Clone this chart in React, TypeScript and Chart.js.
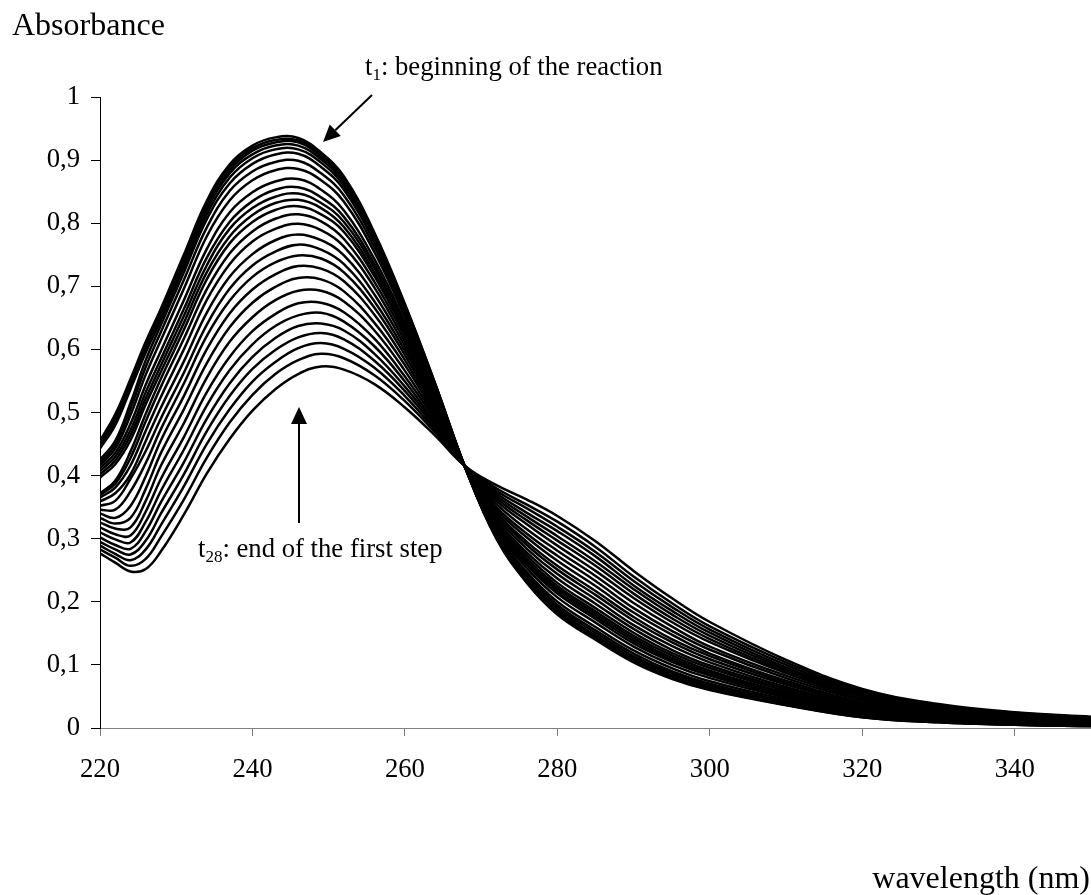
import { useEffect, useRef } from 'react';
import { Chart, registerables } from 'chart.js';

Chart.register(...registerables);

// ---- data ----
const WAVELENGTHS = [220, 222, 224, 226, 228, 231, 234, 237, 240, 243, 246, 249, 252, 256, 260, 264, 268, 272, 276, 280, 285, 290, 295, 300, 310, 320, 330, 340, 350];

const T1 = [0.455, 0.497, 0.553, 0.612, 0.665, 0.750, 0.835, 0.893, 0.923, 0.936, 0.935, 0.912, 0.874, 0.785, 0.672, 0.545, 0.410, 0.300, 0.230, 0.180, 0.140, 0.104, 0.078, 0.060, 0.036, 0.017, 0.009, 0.005, 0.003];
const T2 = [0.452, 0.492, 0.549, 0.608, 0.661, 0.746, 0.831, 0.889, 0.919, 0.932, 0.931, 0.909, 0.871, 0.783, 0.670, 0.544, 0.410, 0.301, 0.231, 0.182, 0.142, 0.105, 0.079, 0.061, 0.037, 0.017, 0.009, 0.005, 0.003];
const T3 = [0.449, 0.488, 0.545, 0.605, 0.657, 0.742, 0.826, 0.884, 0.915, 0.928, 0.928, 0.905, 0.868, 0.780, 0.669, 0.543, 0.410, 0.302, 0.233, 0.183, 0.143, 0.107, 0.081, 0.062, 0.037, 0.018, 0.010, 0.005, 0.003];
const T4 = [0.446, 0.484, 0.541, 0.600, 0.652, 0.736, 0.821, 0.879, 0.909, 0.923, 0.923, 0.901, 0.864, 0.777, 0.667, 0.542, 0.410, 0.303, 0.234, 0.185, 0.145, 0.109, 0.082, 0.064, 0.038, 0.018, 0.010, 0.006, 0.003];
const T5 = [0.443, 0.480, 0.537, 0.595, 0.647, 0.730, 0.814, 0.872, 0.903, 0.917, 0.917, 0.896, 0.859, 0.773, 0.664, 0.541, 0.410, 0.304, 0.236, 0.187, 0.147, 0.111, 0.084, 0.066, 0.040, 0.019, 0.010, 0.006, 0.004];
const T6 = [0.425, 0.455, 0.515, 0.583, 0.639, 0.722, 0.806, 0.863, 0.894, 0.909, 0.910, 0.889, 0.853, 0.769, 0.661, 0.539, 0.410, 0.306, 0.239, 0.191, 0.151, 0.114, 0.087, 0.068, 0.041, 0.020, 0.011, 0.006, 0.004];
const T7 = [0.420, 0.449, 0.506, 0.572, 0.628, 0.710, 0.793, 0.851, 0.882, 0.897, 0.899, 0.879, 0.844, 0.762, 0.656, 0.537, 0.410, 0.308, 0.243, 0.195, 0.155, 0.118, 0.090, 0.070, 0.042, 0.021, 0.012, 0.007, 0.004];
const T8 = [0.416, 0.443, 0.496, 0.560, 0.615, 0.696, 0.779, 0.836, 0.868, 0.884, 0.886, 0.868, 0.834, 0.754, 0.651, 0.534, 0.411, 0.311, 0.247, 0.200, 0.160, 0.123, 0.095, 0.074, 0.045, 0.023, 0.013, 0.008, 0.005];
const T9 = [0.412, 0.436, 0.482, 0.544, 0.598, 0.678, 0.759, 0.817, 0.849, 0.866, 0.870, 0.853, 0.820, 0.743, 0.643, 0.531, 0.411, 0.315, 0.253, 0.207, 0.167, 0.129, 0.100, 0.079, 0.048, 0.025, 0.014, 0.009, 0.006];
const T10 = [0.407, 0.430, 0.472, 0.532, 0.585, 0.664, 0.745, 0.802, 0.835, 0.853, 0.857, 0.841, 0.810, 0.735, 0.638, 0.528, 0.411, 0.318, 0.258, 0.213, 0.173, 0.134, 0.105, 0.083, 0.050, 0.026, 0.015, 0.009, 0.006];
const T11 = [0.402, 0.424, 0.464, 0.522, 0.575, 0.653, 0.733, 0.791, 0.824, 0.842, 0.847, 0.832, 0.802, 0.729, 0.633, 0.526, 0.411, 0.320, 0.261, 0.217, 0.177, 0.138, 0.108, 0.085, 0.052, 0.028, 0.016, 0.010, 0.007];
const T12 = [0.397, 0.418, 0.456, 0.513, 0.565, 0.642, 0.722, 0.779, 0.813, 0.832, 0.837, 0.824, 0.794, 0.722, 0.629, 0.524, 0.411, 0.322, 0.264, 0.221, 0.181, 0.142, 0.111, 0.088, 0.054, 0.029, 0.017, 0.010, 0.007];
const T13 = [0.372, 0.392, 0.438, 0.498, 0.554, 0.631, 0.711, 0.768, 0.802, 0.821, 0.827, 0.814, 0.786, 0.716, 0.625, 0.521, 0.411, 0.324, 0.268, 0.225, 0.185, 0.146, 0.115, 0.091, 0.056, 0.030, 0.017, 0.011, 0.007];
const T14 = [0.369, 0.387, 0.428, 0.486, 0.541, 0.617, 0.695, 0.752, 0.787, 0.807, 0.814, 0.803, 0.775, 0.707, 0.619, 0.519, 0.411, 0.327, 0.273, 0.230, 0.190, 0.151, 0.119, 0.095, 0.059, 0.032, 0.018, 0.011, 0.008];
const T15 = [0.365, 0.381, 0.416, 0.471, 0.525, 0.600, 0.678, 0.735, 0.771, 0.791, 0.799, 0.789, 0.763, 0.698, 0.612, 0.515, 0.411, 0.331, 0.278, 0.237, 0.197, 0.157, 0.124, 0.099, 0.062, 0.033, 0.020, 0.012, 0.008];
const T16 = [0.359, 0.372, 0.402, 0.455, 0.508, 0.581, 0.658, 0.715, 0.751, 0.773, 0.782, 0.773, 0.749, 0.687, 0.605, 0.511, 0.412, 0.335, 0.284, 0.244, 0.204, 0.163, 0.130, 0.104, 0.065, 0.035, 0.021, 0.013, 0.009];
const T17 = [0.352, 0.360, 0.395, 0.439, 0.491, 0.563, 0.639, 0.696, 0.733, 0.755, 0.766, 0.758, 0.735, 0.676, 0.598, 0.508, 0.412, 0.339, 0.290, 0.251, 0.211, 0.170, 0.136, 0.109, 0.069, 0.037, 0.022, 0.014, 0.010];
const T18 = [0.346, 0.346, 0.375, 0.420, 0.474, 0.546, 0.621, 0.677, 0.715, 0.738, 0.749, 0.744, 0.722, 0.666, 0.591, 0.504, 0.412, 0.342, 0.295, 0.257, 0.217, 0.176, 0.141, 0.114, 0.072, 0.039, 0.023, 0.015, 0.010];
const T19 = [0.340, 0.333, 0.352, 0.399, 0.456, 0.526, 0.600, 0.657, 0.695, 0.719, 0.732, 0.728, 0.708, 0.655, 0.583, 0.500, 0.412, 0.346, 0.302, 0.265, 0.225, 0.183, 0.148, 0.118, 0.075, 0.041, 0.025, 0.016, 0.011];
const T20 = [0.333, 0.324, 0.333, 0.379, 0.436, 0.505, 0.578, 0.635, 0.674, 0.699, 0.713, 0.711, 0.692, 0.642, 0.575, 0.496, 0.412, 0.350, 0.308, 0.273, 0.233, 0.190, 0.154, 0.124, 0.079, 0.044, 0.026, 0.017, 0.012];
const T21 = [0.326, 0.316, 0.318, 0.360, 0.416, 0.483, 0.555, 0.612, 0.651, 0.678, 0.693, 0.693, 0.676, 0.630, 0.566, 0.492, 0.413, 0.355, 0.315, 0.281, 0.241, 0.198, 0.161, 0.129, 0.083, 0.046, 0.028, 0.018, 0.013];
const T22 = [0.318, 0.307, 0.305, 0.343, 0.395, 0.461, 0.532, 0.588, 0.629, 0.656, 0.673, 0.674, 0.659, 0.617, 0.557, 0.488, 0.413, 0.360, 0.323, 0.289, 0.249, 0.206, 0.168, 0.136, 0.087, 0.049, 0.029, 0.019, 0.014];
const T23 = [0.310, 0.299, 0.294, 0.327, 0.376, 0.441, 0.511, 0.567, 0.608, 0.637, 0.654, 0.658, 0.644, 0.605, 0.549, 0.483, 0.413, 0.364, 0.329, 0.297, 0.257, 0.213, 0.174, 0.141, 0.090, 0.051, 0.031, 0.020, 0.014];
const T24 = [0.302, 0.290, 0.284, 0.312, 0.358, 0.421, 0.490, 0.546, 0.588, 0.618, 0.637, 0.641, 0.630, 0.593, 0.541, 0.480, 0.413, 0.368, 0.335, 0.304, 0.264, 0.220, 0.180, 0.146, 0.093, 0.053, 0.032, 0.021, 0.015];
const T25 = [0.295, 0.283, 0.275, 0.297, 0.340, 0.402, 0.470, 0.526, 0.569, 0.599, 0.619, 0.626, 0.616, 0.582, 0.534, 0.476, 0.413, 0.372, 0.341, 0.312, 0.272, 0.226, 0.186, 0.151, 0.096, 0.055, 0.033, 0.022, 0.016];
const T26 = [0.289, 0.276, 0.266, 0.283, 0.322, 0.383, 0.450, 0.505, 0.549, 0.580, 0.602, 0.610, 0.601, 0.571, 0.526, 0.472, 0.414, 0.376, 0.348, 0.319, 0.279, 0.233, 0.192, 0.156, 0.100, 0.057, 0.035, 0.023, 0.016];
const T27 = [0.283, 0.270, 0.257, 0.268, 0.303, 0.362, 0.428, 0.484, 0.528, 0.561, 0.583, 0.593, 0.586, 0.559, 0.518, 0.468, 0.414, 0.380, 0.354, 0.327, 0.287, 0.240, 0.198, 0.161, 0.104, 0.059, 0.036, 0.024, 0.017];
const T28 = [0.277, 0.262, 0.248, 0.252, 0.280, 0.338, 0.403, 0.458, 0.503, 0.537, 0.561, 0.573, 0.568, 0.545, 0.508, 0.463, 0.414, 0.385, 0.362, 0.336, 0.296, 0.249, 0.206, 0.168, 0.108, 0.062, 0.038, 0.025, 0.018];

const SERIES = [T1, T2, T3, T4, T5, T6, T7, T8, T9, T10, T11, T12, T13, T14, T15, T16, T17, T18, T19, T20, T21, T22, T23, T24, T25, T26, T27, T28];

const X_TICKS = [220, 240, 260, 280, 300, 320, 340];
const X_TICK_LABELS = ['220', '240', '260', '280', '300', '320', '340'];
const Y_TICKS = [0, 0.1, 0.2, 0.3, 0.4, 0.5, 0.6, 0.7, 0.8, 0.9, 1];
const Y_TICK_LABELS = ['0', '0,1', '0,2', '0,3', '0,4', '0,5', '0,6', '0,7', '0,8', '0,9', '1'];

const Y_TITLE = 'Absorbance';
const X_TITLE = 'wavelength (nm)';
const NOTE_START = { main: 't', sub: '1', rest: ': beginning of the reaction' };
const NOTE_END = { main: 't', sub: '28', rest: ': end of the first step' };

const FONT = '"Liberation Serif", "Times New Roman", Times, serif';

function drawSubText(ctx: CanvasRenderingContext2D, note: { main: string; sub: string; rest: string }, x: number, y: number) {
  ctx.textAlign = 'left';
  ctx.textBaseline = 'alphabetic';
  ctx.font = `26.7px ${FONT}`;
  ctx.fillText(note.main, x, y);
  let cx = x + ctx.measureText(note.main).width;
  ctx.font = `17px ${FONT}`;
  ctx.fillText(note.sub, cx, y + 5);
  cx += ctx.measureText(note.sub).width;
  ctx.font = `26.7px ${FONT}`;
  ctx.fillText(note.rest, cx, y);
}

function drawArrow(ctx: CanvasRenderingContext2D, x1: number, y1: number, x2: number, y2: number) {
  const ang = Math.atan2(y2 - y1, x2 - x1);
  const headLen = 17;
  const headHalf = 8;
  const bx = x2 - headLen * Math.cos(ang);
  const by = y2 - headLen * Math.sin(ang);
  ctx.strokeStyle = '#000';
  ctx.lineWidth = 2;
  ctx.beginPath();
  ctx.moveTo(x1, y1);
  ctx.lineTo(bx, by);
  ctx.stroke();
  ctx.fillStyle = '#000';
  ctx.beginPath();
  ctx.moveTo(x2, y2);
  ctx.lineTo(bx + headHalf * Math.sin(ang), by - headHalf * Math.cos(ang));
  ctx.lineTo(bx - headHalf * Math.sin(ang), by + headHalf * Math.cos(ang));
  ctx.closePath();
  ctx.fill();
}

export default function App() {
  const ref = useRef<HTMLCanvasElement>(null);

  useEffect(() => {
    if (!ref.current) return;

    const annotations = {
      id: 'annotations',
      afterDraw(chart: any) {
        const ctx: CanvasRenderingContext2D = chart.ctx;
        ctx.save();
        ctx.fillStyle = '#000';
        ctx.textBaseline = 'alphabetic';
        ctx.font = `32px ${FONT}`;
        ctx.textAlign = 'left';
        ctx.fillText(Y_TITLE, 12, 35);
        ctx.textAlign = 'right';
        ctx.fillText(X_TITLE, 1090, 888);
        drawSubText(ctx, NOTE_START, 365, 75);
        drawSubText(ctx, NOTE_END, 198, 557);
        drawArrow(ctx, 372, 95, 323, 142);
        drawArrow(ctx, 299, 523, 299, 407);
        ctx.restore();
      },
    };

    const chart = new Chart(ref.current, {
      type: 'line',
      data: {
        datasets: SERIES.map((s, i) => ({
          label: `t${i + 1}`,
          data: WAVELENGTHS.map((w, j) => ({ x: w, y: s[j] })),
          borderColor: '#000',
          backgroundColor: '#000',
          borderWidth: 2.5,
          pointRadius: 0,
          fill: false,
          tension: 0.4,
          cubicInterpolationMode: 'default' as const,
          borderJoinStyle: 'round' as const,
        })),
      },
      options: {
        animation: false,
        responsive: false,
        maintainAspectRatio: false,
        layout: { padding: { top: 97, left: 0, right: 0, bottom: 0 } },
        plugins: {
          legend: { display: false },
          tooltip: { enabled: false },
          title: { display: false },
        },
        scales: {
          x: {
            type: 'linear',
            min: 220,
            max: 350,
            afterBuildTicks: (s: any) => {
              s.ticks = X_TICKS.map((v) => ({ value: v }));
            },
            afterFit: (s: any) => {
              s.height = 167;
            },
            grid: { drawOnChartArea: false, drawTicks: true, tickLength: 8, color: '#808080', lineWidth: 1 },
            border: { display: true, color: '#808080', width: 1 },
            ticks: {
              font: { family: FONT, size: 26.7 },
              color: '#000',
              padding: 18,
              maxRotation: 0,
              autoSkip: false,
              callback: (_v: any, i: number) => X_TICK_LABELS[i],
            },
          },
          y: {
            type: 'linear',
            min: 0,
            max: 1,
            afterBuildTicks: (s: any) => {
              s.ticks = Y_TICKS.map((v) => ({ value: v }));
            },
            afterFit: (s: any) => {
              s.width = 100;
            },
            grid: { drawOnChartArea: false, drawTicks: true, tickLength: 9, color: '#000', lineWidth: 1 },
            border: { display: true, color: '#000', width: 1 },
            ticks: {
              font: { family: FONT, size: 26.7 },
              color: '#000',
              padding: 11,
              autoSkip: false,
              callback: (_v: any, i: number) => Y_TICK_LABELS[i],
            },
          },
        },
      },
      plugins: [annotations],
    });

    return () => chart.destroy();
  }, []);

  return (
    <div style={{ position: 'fixed', left: 0, top: 0, width: 1091, height: 895, background: '#fff' }}>
      <canvas ref={ref} width={1091} height={895} style={{ width: 1091, height: 895, display: 'block' }} />
    </div>
  );
}
